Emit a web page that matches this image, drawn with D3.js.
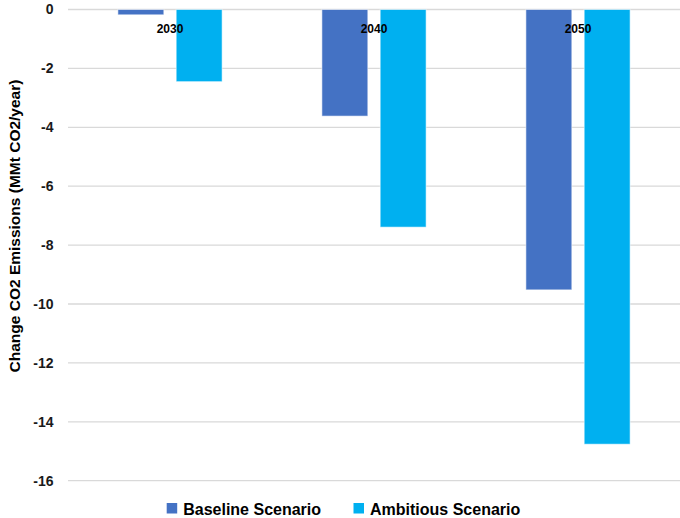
<!DOCTYPE html>
<html>
<head>
<meta charset="utf-8">
<script src="https://cdn.jsdelivr.net/npm/d3@7"></script>
<style>
  html, body { margin: 0; padding: 0; background: #ffffff; }
  svg { display: block; font-family: "Liberation Sans", Arial, sans-serif; }
</style>
</head>
<body>
<svg id="chart" width="680" height="518"></svg>
<script>
// Change in CO2 emissions by year and scenario (MMt CO2/year)
const years = ["2030", "2040", "2050"];
const seriesNames = ["Baseline Scenario", "Ambitious Scenario"];
const baselineValues = [-0.18, -3.62, -9.52];
const ambitiousValues = [-2.45, -7.39, -14.76];
const yTicks = [0, -2, -4, -6, -8, -10, -12, -14, -16];
const seriesColors = ["#4472C4", "#00B0F0"];

const svg = d3.select("#chart");
const plot = { left: 68, right: 680, top: 9.5, bottom: 480.7 };

const y = d3.scaleLinear().domain([-16, 0]).range([plot.bottom, plot.top]);
const x0 = d3.scaleBand().domain(years).range([plot.left, plot.right]);
const x1 = d3.scaleBand().domain(seriesNames).range([0, x0.bandwidth()])
  .paddingInner(0.212).paddingOuter(0.856);
const color = d3.scaleOrdinal().domain(seriesNames).range(seriesColors);

// Horizontal gridlines
svg.append("g")
  .selectAll("line")
  .data(yTicks)
  .join("line")
  .attr("x1", plot.left)
  .attr("x2", plot.right)
  .attr("y1", d => y(d))
  .attr("y2", d => y(d))
  .attr("stroke", "#d9d9d9")
  .attr("stroke-width", 1.3);

// Y-axis tick labels
const yAxis = d3.axisLeft(y).tickValues(yTicks).tickSize(0).tickPadding(0)
  .tickFormat(d => d3.format("d")(d).replace("\u2212", "-"));
const yAxisG = svg.append("g")
  .attr("transform", `translate(${plot.left - 14.5},0)`)
  .call(yAxis);
yAxisG.select(".domain").remove();
yAxisG.selectAll("text")
  .attr("font-family", "'Liberation Sans', Arial, sans-serif")
  .attr("font-size", 14)
  .attr("font-weight", "bold")
  .attr("fill", "#1a1a1a");

// Bars
const rows = years.map((yr, i) => ({
  year: yr,
  values: [
    { name: seriesNames[0], value: baselineValues[i] },
    { name: seriesNames[1], value: ambitiousValues[i] }
  ]
}));

const groups = svg.append("g")
  .selectAll("g")
  .data(rows)
  .join("g")
  .attr("transform", d => `translate(${x0(d.year)},0)`);

groups.selectAll("rect")
  .data(d => d.values)
  .join("rect")
  .attr("x", d => x1(d.name))
  .attr("width", x1.bandwidth())
  .attr("y", d => y(Math.max(0, d.value)))
  .attr("height", d => Math.abs(y(d.value) - y(0)))
  .attr("fill", d => color(d.name))
  .attr("stroke", "#ffffff")
  .attr("stroke-opacity", 0.55)
  .attr("stroke-width", 1);

// Category labels sit just below the zero line
svg.append("g")
  .selectAll("text")
  .data(years)
  .join("text")
  .attr("x", d => x0(d) + x0.bandwidth() / 2)
  .attr("y", 32.5)
  .attr("text-anchor", "middle")
  .attr("font-size", 12)
  .attr("font-weight", "bold")
  .attr("fill", "#000000")
  .text(d => d);

// Y-axis title
svg.append("text")
  .attr("transform", "translate(19.5,226) rotate(-90)")
  .attr("text-anchor", "middle")
  .attr("font-size", 15.5)
  .attr("font-weight", "bold")
  .attr("fill", "#000000")
  .text("Change CO2 Emissions (MMt CO2/year)");

// Legend
const legendX = [166.7, 353.5];
const legend = svg.append("g")
  .selectAll("g")
  .data(seriesNames)
  .join("g")
  .attr("transform", (d, i) => `translate(${legendX[i]},503)`);
legend.append("rect")
  .attr("width", 10.5)
  .attr("height", 10.5)
  .attr("fill", d => color(d));
legend.append("text")
  .attr("x", 16.5)
  .attr("y", 11.8)
  .attr("font-size", 16)
  .attr("font-weight", "bold")
  .attr("fill", "#000000")
  .text(d => d);
</script>
</body>
</html>
